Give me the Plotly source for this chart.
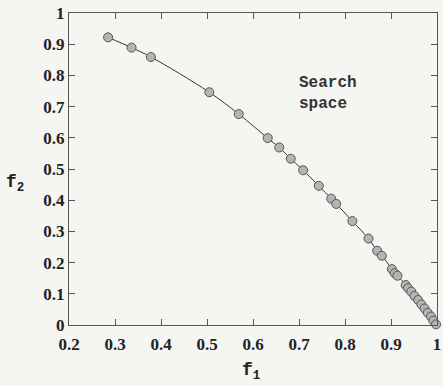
import plotly.graph_objects as go

# Pareto-optimal solutions in objective space (f1, f2)
f1 = [0.285, 0.336, 0.378, 0.505, 0.569, 0.632, 0.657, 0.682, 0.709, 0.743,
      0.770, 0.781, 0.816, 0.851, 0.870, 0.880, 0.902, 0.908, 0.914, 0.932,
      0.937, 0.944, 0.951, 0.959, 0.966, 0.973, 0.980, 0.987, 0.992, 0.998]
f2 = [0.922, 0.889, 0.859, 0.746, 0.676, 0.599, 0.569, 0.533, 0.496, 0.446,
      0.405, 0.388, 0.333, 0.277, 0.238, 0.222, 0.179, 0.166, 0.158, 0.128,
      0.118, 0.107, 0.093, 0.080, 0.066, 0.053, 0.039, 0.027, 0.014, 0.002]

x_ticks = [0.2, 0.3, 0.4, 0.5, 0.6, 0.7, 0.8, 0.9, 1.0]
x_tick_text = ["0.2", "0.3", "0.4", "0.5", "0.6", "0.7", "0.8", "0.9", "1"]
y_ticks = [0, 0.1, 0.2, 0.3, 0.4, 0.5, 0.6, 0.7, 0.8, 0.9, 1.0]
y_tick_text = ["0", "0.1", "0.2", "0.3", "0.4", "0.5", "0.6", "0.7", "0.8", "0.9", "1"]

BG = "#f5f5f2"
AXIS = "#555555"
serif = "Liberation Serif"
mono = "Liberation Mono"
tick_font = dict(family=serif, size=17, color="#222222", weight="bold")

# plot-area extent in pixels, used to place the free text labels
L, R, T, B = 69, 441, 13, 325
W, H = R - L, B - T

fig = go.Figure()
fig.add_trace(go.Scatter(
    x=f1, y=f2, mode="lines+markers",
    line=dict(color="#333333", width=1, shape="spline"),
    marker=dict(size=9, color="#b4b4b4", line=dict(color="#555555", width=1)),
    cliponaxis=False, showlegend=False,
))

axis_common = dict(showgrid=False, zeroline=False, showline=True, linecolor=AXIS,
                   linewidth=1.2, mirror="ticks", ticks="inside", ticklen=6,
                   tickcolor=AXIS, tickwidth=1, tickfont=tick_font,
                   ticklabeloverflow="allow")

fig.update_xaxes(range=[0.2, 1.0], tickvals=x_ticks, ticktext=x_tick_text,
                 ticklabelstandoff=3, **axis_common)
fig.update_yaxes(range=[0, 1.0], tickvals=y_ticks, ticktext=y_tick_text, **axis_common)

fig.update_layout(
    width=443, height=386,
    margin=dict(l=L, r=443 - R, t=T, b=386 - B),
    paper_bgcolor=BG, plot_bgcolor=BG,
    annotations=[
        dict(x=(299 - L) / W, y=(B - 93) / H, xref="paper", yref="paper",
             text="Search<br>space", showarrow=False, align="left",
             xanchor="left", yanchor="middle",
             font=dict(family=mono, size=16, color="#333333", weight="bold")),
        dict(x=(253 - L) / W, y=-(371 - B) / H, xref="paper", yref="paper",
             text="f<sub>1</sub>", showarrow=False, xanchor="center", yanchor="middle",
             font=dict(family=mono, size=18, color="#222222", weight="bold")),
        dict(x=-(L - 14) / W, y=(B - 183) / H, xref="paper", yref="paper",
             text="f<sub>2</sub>", showarrow=False, xanchor="center", yanchor="middle",
             font=dict(family=mono, size=18, color="#222222", weight="bold")),
    ],
)

fig.write_html("out.html")
